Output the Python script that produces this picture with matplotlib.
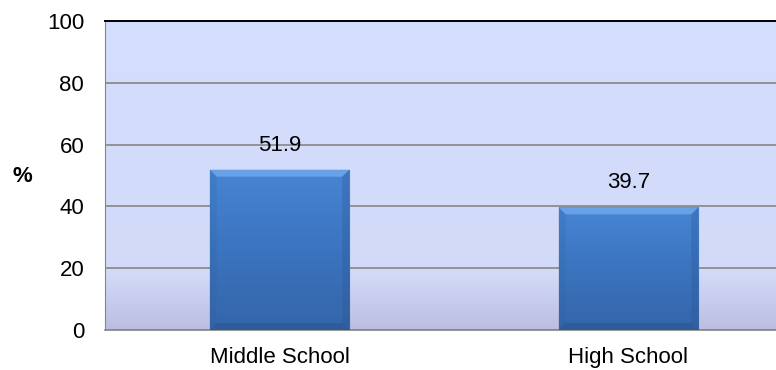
import numpy as np
import matplotlib.pyplot as plt
from matplotlib.colors import LinearSegmentedColormap

plt.rcParams['font.family'] = ['Liberation Sans', 'DejaVu Sans']

# data
categories = ['Middle School', 'High School']
values = [51.9, 39.7]
yticks = [0, 20, 40, 60, 80, 100]

fig = plt.figure(figsize=(7.76, 3.70), dpi=100)
# plot area runs past the right edge of the picture, as in the original
ax = fig.add_axes([105 / 776, 40 / 370, 698 / 776, 309 / 370])

x = np.arange(len(categories))
width = 0.4
ax.set_xlim(-0.5, len(categories) - 0.5)
ax.set_ylim(0, 100)

# background: flat lavender with darker band near the bottom
bg = LinearSegmentedColormap.from_list('bg', [(0, '#bcbee0'), (0.18, '#d2daf8'), (1, '#d4defd')])
grad = np.linspace(0, 1, 256).reshape(-1, 1)
ax.imshow(grad, cmap=bg, aspect='auto', origin='lower',
          extent=[-0.5, len(categories) - 0.5, 0, 100], zorder=0)

ax.grid(axis='y', color='#868686', linewidth=1.2, zorder=1)
ax.set_axisbelow(True)

# bars with gradient fill and a small bevel
barcm = LinearSegmentedColormap.from_list('bar', ['#3465a8', '#3b74bf', '#4785d4'])
bars = ax.bar(x, values, width=width, color='#3d78c4', edgecolor='#2a4f80',
              linewidth=0.8, zorder=2)
bx = 7 / 349          # bevel size in data units (x)
by = 7 / 309 * 100    # bevel size in data units (y)
for b in bars:
    x0, y0 = b.get_x(), b.get_y()
    w, h = b.get_width(), b.get_height()
    x1, y1 = x0 + w, y0 + h
    im = ax.imshow(grad, cmap=barcm, aspect='auto', origin='lower',
                   extent=[x0, x1, y0, y1], zorder=3)
    im.set_clip_path(b)
    ax.fill([x0, x1, x1 - bx, x0 + bx], [y1, y1, y1 - by, y1 - by],
            color='#78aef0', alpha=0.7, linewidth=0, zorder=4)
    ax.fill([x0, x0 + bx, x0 + bx, x0], [y0, y0 + by, y1 - by, y1],
            color='#2f5f9f', alpha=0.2, linewidth=0, zorder=4)
    ax.fill([x1, x1 - bx, x1 - bx, x1], [y0, y0 + by, y1 - by, y1],
            color='#2a5592', alpha=0.3, linewidth=0, zorder=4)
    ax.fill([x0, x1, x1 - bx, x0 + bx], [y0, y0, y0 + by, y0 + by],
            color='#254c85', alpha=0.4, linewidth=0, zorder=4)
    ax.text(x0 + w / 2, y1 + 4.5, f'{h:.1f}', ha='center', va='bottom',
            fontsize=16, color='black', zorder=5)

ax.set_xticks(x)
ax.set_xticklabels(categories, fontsize=16)
ax.set_yticks(yticks)
ax.set_yticklabels([str(t) for t in yticks], fontsize=16)
ax.tick_params(length=0)
ax.tick_params(axis='y', pad=15)
ax.tick_params(axis='x', pad=12)

ax.spines['top'].set_color('black')
ax.spines['top'].set_linewidth(1.4)
ax.spines['left'].set_color('#868686')
ax.spines['bottom'].set_color('#868686')
ax.spines['bottom'].set_linewidth(1.2)
ax.spines['right'].set_visible(False)

fig.text(22 / 776, 1 - 176 / 370, '%', fontsize=16, fontweight='bold',
         ha='center', va='center')

fig.savefig('out.png', dpi=100)
